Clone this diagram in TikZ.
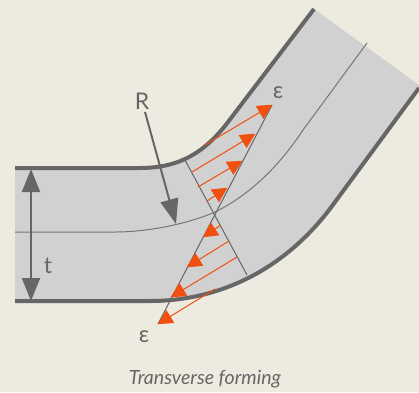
\documentclass[tikz,border=0pt]{standalone}
\usepackage{fontspec}
\setmainfont{Lato}
\usetikzlibrary{arrows.meta}
\definecolor{bgc}{HTML}{EDEBE0}
\definecolor{band}{HTML}{D1D1D1}
\definecolor{edgec}{HTML}{666666}
\definecolor{org}{HTML}{F0500F}
\tikzset{
  x=1pt,y=-1pt,
  edgeline/.style={edgec,line width=4pt},
  thinline/.style={edgec,line width=1pt},
  strainarrow/.style={org,line width=1pt,-{Triangle[length=15pt,width=15pt]},shorten >=-0.5pt},
  dimarrow/.style={edgec,line width=2pt,{Triangle[length=23pt,width=18pt]}-{Triangle[length=23pt,width=18pt]}},
  radarrow/.style={edgec,line width=2pt,-{Triangle[length=25pt,width=18pt]}},
  lab/.style={text=edgec,font=\fontsize{23}{23}\selectfont,inner sep=0pt},
  captext/.style={text=edgec,font=\fontsize{19.5}{22}\selectfont\itshape,inner sep=0pt}
}
\begin{document}
\begin{tikzpicture}
\useasboundingbox (0,0) rectangle (419,392);
\fill[bgc] (0,0) rectangle (419,392);
% band
\fill[band] (15,168) -- (140,168) .. controls (180,168) and (205,152) .. (228,122) -- (314,9) -- (419,85)
  -- (419,88) -- (335,202) .. controls (290,265) and (225,301) .. (150,301) -- (15,301) -- cycle;
% centre line
\coordinate (m0) at (15,232);
\coordinate (m1) at (367,43);
\draw[edgec!85!band,line width=1pt] (m0) -- (115,232) .. controls (150,232) and (190,223) .. (215,212)
  .. controls (250,195) and (280,165) .. (303,130) -- (m1);
% outer edges
\coordinate (u0) at (15,168);
\coordinate (u1) at (314,9);
\coordinate (l0) at (15,301);
\coordinate (l1) at (419,88);
\draw[edgeline] (u0) -- (140,168) .. controls (180,168) and (205,152) .. (228,122) -- (u1);
\draw[edgeline] (l0) -- (150,301) .. controls (225,301) and (290,265) .. (335,202) -- (l1);
% section lines
\coordinate (v0) at (185,160);
\coordinate (v1) at (247,275);
\coordinate (e0) at (272,105);
\coordinate (e1) at (158,324);
\draw[thinline] (v0) -- (v1);
\draw[thinline] (e0) -- (e1);
% strain arrows
\foreach \a/\b/\c/\d in {205/145/272/105,192/172/255/134,198/187/242/161,207/201/227/188,
  221/225/203/237,229/241/187/267,237/257/171/297,215/289/158/324}{
  \coordinate (sa) at (\a,\b);
  \coordinate (sb) at (\c,\d);
  \draw[strainarrow] (sa) -- (sb);
}
% R and t
\coordinate (r0) at (145,112);
\coordinate (r1) at (176,224);
\draw[radarrow] (r0) -- (r1);
\coordinate (t0) at (31,169);
\coordinate (t1) at (31,301);
\draw[dimarrow] (t0) -- (t1);
\node[lab] (R) at (142,101) {R};
\node[lab] (t) at (48,266) {t};
\node[lab] (e1lab) at (278,93) {ε};
\node[lab] (e2lab) at (144,337) {ε};
\node[captext] (caption) at (205,379) {Transverse forming};
\end{tikzpicture}
\end{document}
